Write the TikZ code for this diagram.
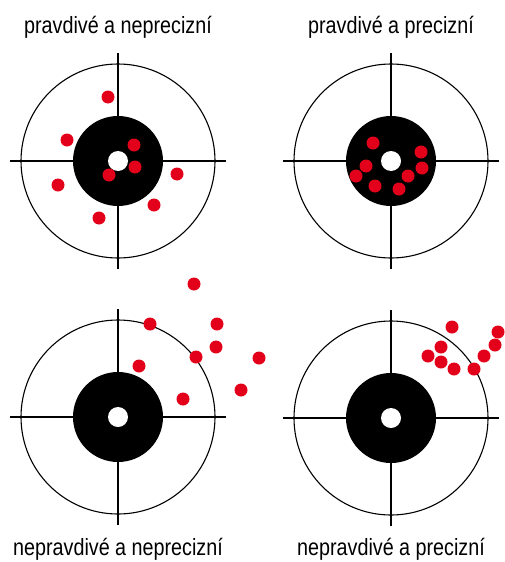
\documentclass[tikz,border=0pt]{standalone}
\usepackage{fontspec}
\setmainfont[FakeStretch=0.84]{Liberation Sans}
\usepackage{tikz}
\usetikzlibrary{positioning}
\definecolor{hitred}{RGB}{226,0,26}

\begin{document}
\begin{tikzpicture}[x=1pt,y=-1pt,ring/.style={draw=black,line width=1.1pt},cross/.style={draw=black,line width=1.4pt},hit/.style={fill=hitred},caption/.style={font=\fontsize{23.5}{26}\selectfont,anchor=base,inner sep=0pt}]
    \useasboundingbox (0,0) rectangle (504,562);
    % targets
    \foreach \cx/\cy in {118/161,391/161,118/417,391/418} {
      \draw[ring] (\cx,\cy) circle[radius=97];
      \draw[cross] (\cx-108,\cy) -- (\cx+108,\cy);
      \draw[cross] (\cx,\cy-108) -- (\cx,\cy+108);
      \fill[black] (\cx,\cy) circle[radius=45];
      \fill[white] (\cx,\cy) circle[radius=10];
    }
    % hits
    \foreach \hx/\hy in {108/97,67/140,134/145,135/167,109/175,58/185,177/174,154/205,99/218}
      \fill[hit] (\hx,\hy) circle[radius=6.5];
    \foreach \hx/\hy in {373/143,421/152,422/168,366/166,356/176,408/176,375/186,399/189}
      \fill[hit] (\hx,\hy) circle[radius=6.5];
    \foreach \hx/\hy in {194/284,150/324,217/324,216/347,196/357,259/358,139/366,241/390,183/399}
      \fill[hit] (\hx,\hy) circle[radius=6.5];
    \foreach \hx/\hy in {452/327,498/332,441/347,495/345,428/356,484/356,441/362,454/369,474/369}
      \fill[hit] (\hx,\hy) circle[radius=6.5];
    % captions
    \node[caption] (tl) at (118,33) {pravdivé a neprecizní};
    \node[caption] (tr) at (391,33) {pravdivé a precizní};
    \node[caption] (bl) at (118,555) {nepravdivé a neprecizní};
    \node[caption] (br) at (391,555) {nepravdivé a precizní};
  \end{tikzpicture}
\end{document}
